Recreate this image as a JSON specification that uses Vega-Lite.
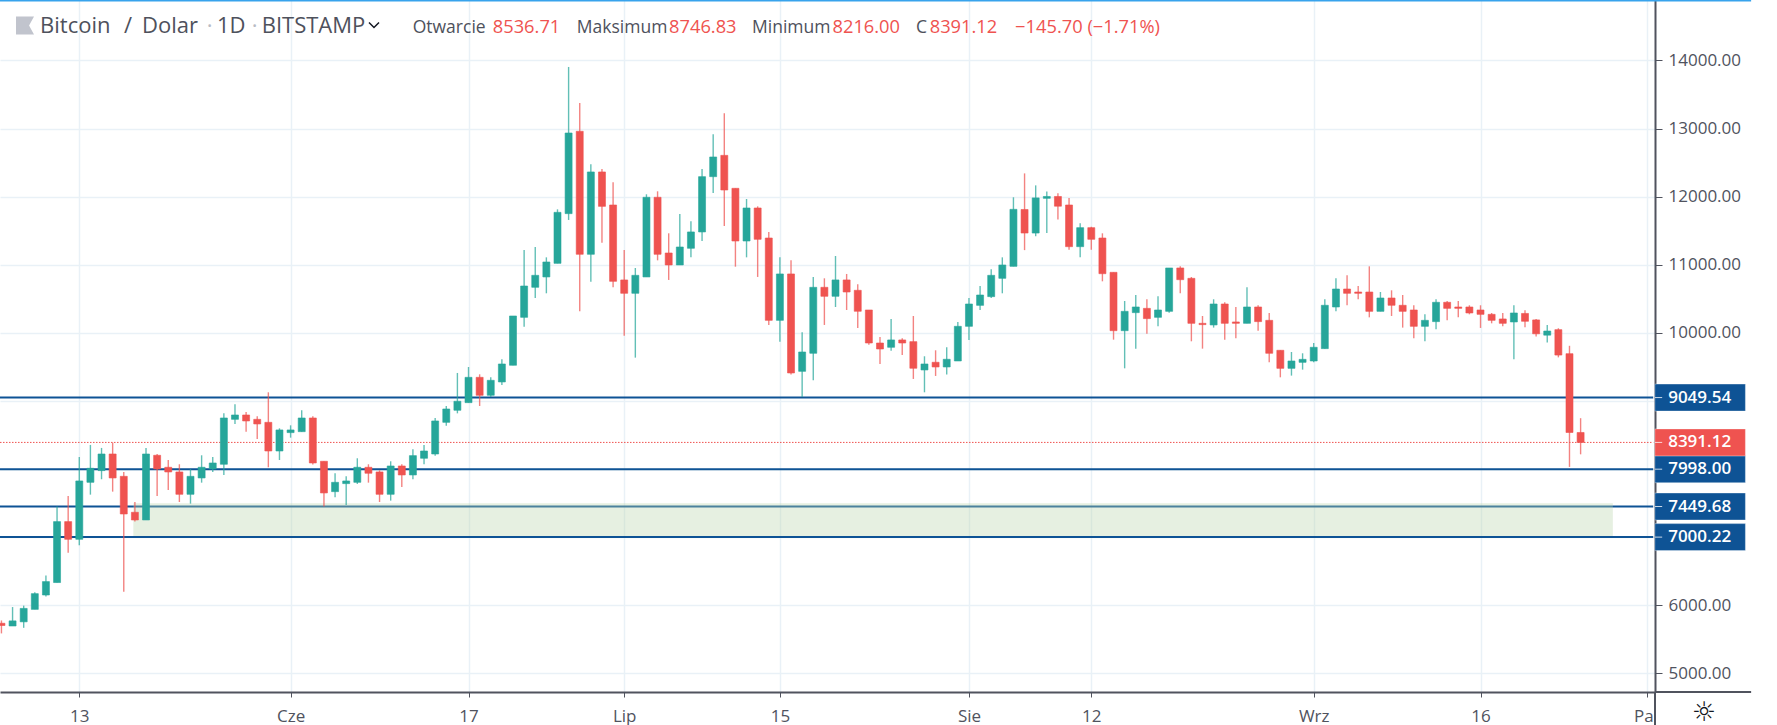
{
  "$schema": "https://vega.github.io/schema/vega-lite/v6.json",
  "width": 1655,
  "height": 692,
  "autosize": {"type": "none"},
  "padding": {"left": 0, "top": 0, "right": 122, "bottom": 33},
  "background": "#ffffff",
  "view": {"stroke": null},
  "config": {"font": "Open Sans"},
  "datasets": {
    "candles": [
      {"date":"2019-05-06","open":5735,"high":5776,"low":5586,"close":5702},
      {"date":"2019-05-07","open":5695,"high":5973,"low":5695,"close":5770},
      {"date":"2019-05-08","open":5756,"high":5994,"low":5668,"close":5953},
      {"date":"2019-05-09","open":5939,"high":6190,"low":5939,"close":6170},
      {"date":"2019-05-10","open":6150,"high":6435,"low":6129,"close":6347},
      {"date":"2019-05-11","open":6333,"high":7448,"low":6333,"close":7228},
      {"date":"2019-05-12","open":7228,"high":7604,"low":6772,"close":6968},
      {"date":"2019-05-13","open":6968,"high":8177,"low":6880,"close":7825},
      {"date":"2019-05-14","open":7805,"high":8354,"low":7624,"close":8011},
      {"date":"2019-05-15","open":7977,"high":8310,"low":7850,"close":8221},
      {"date":"2019-05-16","open":8221,"high":8388,"low":7668,"close":7869},
      {"date":"2019-05-17","open":7893,"high":7957,"low":6197,"close":7340},
      {"date":"2019-05-18","open":7365,"high":7516,"low":7228,"close":7252},
      {"date":"2019-05-19","open":7252,"high":8310,"low":7252,"close":8221},
      {"date":"2019-05-20","open":8202,"high":8221,"low":7604,"close":8001},
      {"date":"2019-05-21","open":8026,"high":8133,"low":7693,"close":7957},
      {"date":"2019-05-22","open":7957,"high":8070,"low":7516,"close":7629},
      {"date":"2019-05-23","open":7629,"high":8001,"low":7492,"close":7893},
      {"date":"2019-05-24","open":7869,"high":8202,"low":7800,"close":8026},
      {"date":"2019-05-25","open":8001,"high":8177,"low":7957,"close":8089},
      {"date":"2019-05-26","open":8070,"high":8818,"low":7913,"close":8750},
      {"date":"2019-05-27","open":8730,"high":8951,"low":8662,"close":8794},
      {"date":"2019-05-28","open":8794,"high":8838,"low":8549,"close":8706},
      {"date":"2019-05-29","open":8730,"high":8775,"low":8442,"close":8662},
      {"date":"2019-05-30","open":8686,"high":9127,"low":8026,"close":8265},
      {"date":"2019-05-31","open":8265,"high":8598,"low":8133,"close":8574},
      {"date":"2019-06-01","open":8535,"high":8642,"low":8461,"close":8574},
      {"date":"2019-06-02","open":8549,"high":8863,"low":8549,"close":8750},
      {"date":"2019-06-03","open":8750,"high":8775,"low":8065,"close":8089},
      {"date":"2019-06-04","open":8114,"high":8114,"low":7448,"close":7649},
      {"date":"2019-06-05","open":7668,"high":7938,"low":7585,"close":7805},
      {"date":"2019-06-06","open":7786,"high":7893,"low":7472,"close":7825},
      {"date":"2019-06-07","open":7805,"high":8158,"low":7781,"close":8026},
      {"date":"2019-06-08","open":8026,"high":8070,"low":7800,"close":7938},
      {"date":"2019-06-09","open":7957,"high":7981,"low":7516,"close":7629},
      {"date":"2019-06-10","open":7629,"high":8114,"low":7536,"close":8045},
      {"date":"2019-06-11","open":8045,"high":8070,"low":7737,"close":7913},
      {"date":"2019-06-12","open":7913,"high":8290,"low":7850,"close":8197},
      {"date":"2019-06-13","open":8158,"high":8354,"low":8070,"close":8265},
      {"date":"2019-06-14","open":8221,"high":8750,"low":8197,"close":8706},
      {"date":"2019-06-15","open":8686,"high":8926,"low":8637,"close":8882},
      {"date":"2019-06-16","open":8863,"high":9411,"low":8818,"close":8995},
      {"date":"2019-06-17","open":8975,"high":9499,"low":8975,"close":9347},
      {"date":"2019-06-18","open":9347,"high":9391,"low":8926,"close":9083},
      {"date":"2019-06-19","open":9083,"high":9347,"low":9058,"close":9303},
      {"date":"2019-06-20","open":9279,"high":9612,"low":9235,"close":9543},
      {"date":"2019-06-21","open":9524,"high":10248,"low":9524,"close":10248},
      {"date":"2019-06-22","open":10228,"high":11217,"low":10091,"close":10688},
      {"date":"2019-06-23","open":10669,"high":11261,"low":10512,"close":10845},
      {"date":"2019-06-24","open":10821,"high":11109,"low":10581,"close":11041},
      {"date":"2019-06-25","open":11021,"high":11814,"low":11021,"close":11770},
      {"date":"2019-06-26","open":11751,"high":13905,"low":11658,"close":12935},
      {"date":"2019-06-27","open":12960,"high":13376,"low":10316,"close":11154},
      {"date":"2019-06-28","open":11154,"high":12475,"low":10752,"close":12363},
      {"date":"2019-06-29","open":12363,"high":12407,"low":11325,"close":11858},
      {"date":"2019-06-30","open":11878,"high":12211,"low":10669,"close":10757},
      {"date":"2019-07-01","open":10777,"high":11217,"low":9959,"close":10581},
      {"date":"2019-07-02","open":10581,"high":10953,"low":9636,"close":10845},
      {"date":"2019-07-03","open":10821,"high":12035,"low":10821,"close":11991},
      {"date":"2019-07-04","open":11991,"high":12079,"low":11065,"close":11154},
      {"date":"2019-07-05","open":11173,"high":11462,"low":10777,"close":10997},
      {"date":"2019-07-06","open":10997,"high":11746,"low":10997,"close":11261},
      {"date":"2019-07-07","open":11242,"high":11638,"low":11109,"close":11482},
      {"date":"2019-07-08","open":11482,"high":12407,"low":11349,"close":12294},
      {"date":"2019-07-09","open":12294,"high":12916,"low":12054,"close":12583},
      {"date":"2019-07-10","open":12607,"high":13224,"low":11570,"close":12098},
      {"date":"2019-07-11","open":12123,"high":12123,"low":10972,"close":11349},
      {"date":"2019-07-12","open":11349,"high":11966,"low":11109,"close":11834},
      {"date":"2019-07-13","open":11834,"high":11858,"low":10821,"close":11374},
      {"date":"2019-07-14","open":11393,"high":11482,"low":10116,"close":10184},
      {"date":"2019-07-15","open":10184,"high":11109,"low":9871,"close":10865},
      {"date":"2019-07-16","open":10865,"high":11065,"low":9387,"close":9411},
      {"date":"2019-07-17","open":9435,"high":10008,"low":9058,"close":9719},
      {"date":"2019-07-18","open":9700,"high":10821,"low":9303,"close":10669},
      {"date":"2019-07-19","open":10669,"high":10801,"low":10116,"close":10537},
      {"date":"2019-07-20","open":10537,"high":11129,"low":10380,"close":10777},
      {"date":"2019-07-21","open":10777,"high":10865,"low":10336,"close":10600},
      {"date":"2019-07-22","open":10625,"high":10713,"low":10072,"close":10317},
      {"date":"2019-07-23","open":10336,"high":10336,"low":9827,"close":9851},
      {"date":"2019-07-24","open":9851,"high":9940,"low":9543,"close":9763},
      {"date":"2019-07-25","open":9788,"high":10204,"low":9739,"close":9896},
      {"date":"2019-07-26","open":9896,"high":9920,"low":9675,"close":9851},
      {"date":"2019-07-27","open":9871,"high":10248,"low":9323,"close":9480},
      {"date":"2019-07-28","open":9455,"high":9656,"low":9127,"close":9543},
      {"date":"2019-07-29","open":9568,"high":9744,"low":9367,"close":9499},
      {"date":"2019-07-30","open":9499,"high":9788,"low":9387,"close":9612},
      {"date":"2019-07-31","open":9587,"high":10160,"low":9587,"close":10096},
      {"date":"2019-08-01","open":10096,"high":10512,"low":9896,"close":10424},
      {"date":"2019-08-02","open":10404,"high":10688,"low":10336,"close":10556},
      {"date":"2019-08-03","open":10532,"high":10933,"low":10512,"close":10845},
      {"date":"2019-08-04","open":10801,"high":11109,"low":10581,"close":10997},
      {"date":"2019-08-05","open":10977,"high":11991,"low":10977,"close":11814},
      {"date":"2019-08-06","open":11812,"high":12342,"low":11215,"close":11466},
      {"date":"2019-08-07","open":11466,"high":12166,"low":11419,"close":11982},
      {"date":"2019-08-08","open":11976,"high":12077,"low":11466,"close":12003},
      {"date":"2019-08-09","open":12003,"high":12050,"low":11663,"close":11860},
      {"date":"2019-08-10","open":11878,"high":11982,"low":11222,"close":11266},
      {"date":"2019-08-11","open":11266,"high":11609,"low":11109,"close":11545},
      {"date":"2019-08-12","open":11545,"high":11560,"low":11222,"close":11374},
      {"date":"2019-08-13","open":11393,"high":11462,"low":10757,"close":10869},
      {"date":"2019-08-14","open":10889,"high":10889,"low":9900,"close":10032},
      {"date":"2019-08-15","open":10032,"high":10468,"low":9479,"close":10316},
      {"date":"2019-08-16","open":10297,"high":10556,"low":9768,"close":10380},
      {"date":"2019-08-17","open":10360,"high":10493,"low":9988,"close":10209},
      {"date":"2019-08-18","open":10228,"high":10537,"low":10096,"close":10336},
      {"date":"2019-08-19","open":10316,"high":10953,"low":10297,"close":10953},
      {"date":"2019-08-20","open":10953,"high":10977,"low":10581,"close":10781},
      {"date":"2019-08-21","open":10801,"high":10820,"low":9876,"close":10140},
      {"date":"2019-08-22","open":10140,"high":10248,"low":9768,"close":10121},
      {"date":"2019-08-23","open":10116,"high":10493,"low":10077,"close":10424},
      {"date":"2019-08-24","open":10424,"high":10449,"low":9900,"close":10140},
      {"date":"2019-08-25","open":10160,"high":10380,"low":9920,"close":10140},
      {"date":"2019-08-26","open":10140,"high":10669,"low":10140,"close":10380},
      {"date":"2019-08-27","open":10380,"high":10405,"low":10032,"close":10165},
      {"date":"2019-08-28","open":10184,"high":10292,"low":9567,"close":9700},
      {"date":"2019-08-29","open":9744,"high":9744,"low":9347,"close":9479},
      {"date":"2019-08-30","open":9479,"high":9719,"low":9372,"close":9587},
      {"date":"2019-08-31","open":9567,"high":9700,"low":9460,"close":9611},
      {"date":"2019-09-01","open":9587,"high":9851,"low":9567,"close":9788},
      {"date":"2019-09-02","open":9768,"high":10493,"low":9768,"close":10405},
      {"date":"2019-09-03","open":10380,"high":10801,"low":10316,"close":10644},
      {"date":"2019-09-04","open":10644,"high":10845,"low":10405,"close":10581},
      {"date":"2019-09-05","open":10600,"high":10688,"low":10493,"close":10581},
      {"date":"2019-09-06","open":10600,"high":10977,"low":10228,"close":10316},
      {"date":"2019-09-07","open":10316,"high":10600,"low":10316,"close":10512},
      {"date":"2019-09-08","open":10512,"high":10625,"low":10248,"close":10405},
      {"date":"2019-09-09","open":10405,"high":10556,"low":10077,"close":10316},
      {"date":"2019-09-10","open":10336,"high":10405,"low":9920,"close":10096},
      {"date":"2019-09-11","open":10096,"high":10272,"low":9876,"close":10184},
      {"date":"2019-09-12","open":10165,"high":10493,"low":10052,"close":10449},
      {"date":"2019-09-13","open":10449,"high":10468,"low":10184,"close":10360},
      {"date":"2019-09-14","open":10380,"high":10468,"low":10228,"close":10360},
      {"date":"2019-09-15","open":10380,"high":10405,"low":10272,"close":10292},
      {"date":"2019-09-16","open":10336,"high":10405,"low":10072,"close":10272},
      {"date":"2019-09-17","open":10272,"high":10292,"low":10140,"close":10184},
      {"date":"2019-09-18","open":10204,"high":10292,"low":10096,"close":10140},
      {"date":"2019-09-19","open":10160,"high":10405,"low":9611,"close":10292},
      {"date":"2019-09-20","open":10285,"high":10332,"low":10081,"close":10170},
      {"date":"2019-09-21","open":10190,"high":10203,"low":9945,"close":9986},
      {"date":"2019-09-22","open":9966,"high":10115,"low":9857,"close":10027},
      {"date":"2019-09-23","open":10047,"high":10068,"low":9640,"close":9674},
      {"date":"2019-09-24","open":9694,"high":9810,"low":8031,"close":8536.71},
      {"date":"2019-09-25","open":8536.71,"high":8746.83,"low":8216,"close":8391.12}
    ],
    "levels": [
      {"level":9049.54,"label":"9049.54"},
      {"level":7998,"label":"7998.00"},
      {"level":7449.68,"label":"7449.68"},
      {"level":7000.22,"label":"7000.22"}
    ],
    "last": [{"level":8391.12,"label":"8391.12"}],
    "title": [
      {"at":"2019-05-09T11:17:00Z","text":"Bitcoin","tone":"main"},
      {"at":"2019-05-17T00:29:00Z","text":"/","tone":"main"},
      {"at":"2019-05-18T15:21:00Z","text":"Dolar","tone":"main"},
      {"at":"2019-05-24T11:00:00Z","text":"·","tone":"dot"},
      {"at":"2019-05-25T09:07:00Z","text":"1D","tone":"main"},
      {"at":"2019-05-28T12:00:00Z","text":"·","tone":"dot"},
      {"at":"2019-05-29T09:36:00Z","text":"BITSTAMP","tone":"main"}
    ],
    "ohlc": [
      {"at":"2019-06-11T23:33:00Z","text":"Otwarcie","tone":"main"},
      {"at":"2019-06-19T04:19:00Z","text":"8536.71","tone":"down"},
      {"at":"2019-06-26T17:46:00Z","text":"Maksimum","tone":"main"},
      {"at":"2019-07-05T00:43:00Z","text":"8746.83","tone":"down"},
      {"at":"2019-07-12T11:46:00Z","text":"Minimum","tone":"main"},
      {"at":"2019-07-19T17:31:00Z","text":"8216.00","tone":"down"},
      {"at":"2019-07-27T05:46:00Z","text":"C","tone":"main"},
      {"at":"2019-07-28T11:17:00Z","text":"8391.12","tone":"down"},
      {"at":"2019-08-05T03:36:00Z","text":"−145.70 (−1.71%)","tone":"down"}
    ]
  },
  "layer": [
    {
      "data": {"name": "levels"},
      "mark": {"type": "rule", "color": "#0e5395", "strokeWidth": 2},
      "encoding": {
        "x": {
          "datum": {"year":2019,"month":5,"date":5,"hours":20,"minutes":53,"utc":true},
          "type": "temporal",
          "title": null,
          "scale": {"type": "utc", "domain": [{"year":2019,"month":5,"date":5,"hours":20,"minutes":53,"utc":true}, {"year":2019,"month":10,"date":1,"hours":16,"minutes":33,"utc":true}], "nice": false, "padding": 0},
          "axis": {
            "orient": "bottom",
            "values": [
              {"year":2019,"month":5,"date":13,"utc":true},
              {"year":2019,"month":6,"date":1,"utc":true},
              {"year":2019,"month":6,"date":17,"utc":true},
              {"year":2019,"month":7,"date":1,"utc":true},
              {"year":2019,"month":7,"date":15,"utc":true},
              {"year":2019,"month":8,"date":1,"utc":true},
              {"year":2019,"month":8,"date":12,"utc":true},
              {"year":2019,"month":9,"date":1,"utc":true},
              {"year":2019,"month":9,"date":16,"utc":true},
              {"year":2019,"month":10,"date":1,"utc":true}
            ],
            "labelExpr": "{'05-13':'13','06-01':'Cze','06-17':'17','07-01':'Lip','07-15':'15','08-01':'Sie','08-12':'12','09-01':'Wrz','09-16':'16','10-01':'Paź'}[utcFormat(datum.value,'%m-%d')]",
            "grid": true,
            "gridColor": "#e9f1f7",
            "gridWidth": 1.5,
            "domainColor": "#50535e",
            "domainWidth": 2,
            "tickColor": "#50535e",
            "tickSize": 5,
            "tickWidth": 1,
            "labelColor": "#50535e",
            "labelFont": "Open Sans",
            "labelFontSize": 17,
            "labelPadding": 11,
            "labelAngle": 0,
            "labelOverlap": false,
            "labelFlush": false,
            "labelBound": false
          }
        },
        "x2": {"datum": {"year":2019,"month":10,"date":1,"hours":12,"minutes":43,"utc":true}},
        "y": {
          "field": "level",
          "type": "quantitative",
          "title": null,
          "scale": {"domain": [4725.5, 14888.5], "nice": false, "zero": false, "padding": 0},
          "axis": {
            "orient": "right",
            "values": [5000, 6000, 7000, 8000, 9000, 10000, 11000, 12000, 13000, 14000],
            "labelExpr": "datum.value >= 7000 && datum.value <= 9000 ? '' : format(datum.value, '.2f')",
            "grid": true,
            "gridColor": "#e9f1f7",
            "gridWidth": 1.5,
            "domainColor": "#50535e",
            "domainWidth": 2,
            "tickColor": "#50535e",
            "tickSize": 7,
            "tickWidth": 1,
            "labelColor": "#50535e",
            "labelFont": "Open Sans",
            "labelFontSize": 17,
            "labelPadding": 6,
            "labelOverlap": false,
            "labelFlush": false,
            "labelBound": false
          }
        }
      }
    },
    {
      "data": {"name": "last"},
      "mark": {"type": "rule", "color": "#ef5350", "strokeWidth": 1, "strokeDash": [1.5, 1.5]},
      "encoding": {
        "x": {"datum": {"year":2019,"month":5,"date":5,"hours":20,"minutes":53,"utc":true}, "type": "temporal", "title": null},
        "x2": {"datum": {"year":2019,"month":10,"date":1,"hours":12,"minutes":43,"utc":true}},
        "y": {"field": "level", "type": "quantitative", "title": null}
      }
    },
    {
      "data": {"values": [{"from": "2019-05-17T20:40:00Z", "to": "2019-09-27T21:36:00Z", "top": 7497, "bottom": 7017}]},
      "mark": {"type": "rect", "color": "#b9d6ac", "opacity": 0.36},
      "encoding": {
        "x": {"field": "from", "type": "temporal", "title": null},
        "x2": {"field": "to"},
        "y": {"field": "top", "type": "quantitative", "title": null},
        "y2": {"field": "bottom"}
      }
    },
    {
      "data": {"name": "candles"},
      "mark": {"type": "rule", "strokeWidth": 1.4, "opacity": 0.72},
      "encoding": {
        "x": {"field": "date", "type": "temporal", "title": null},
        "y": {"field": "low", "type": "quantitative", "title": null},
        "y2": {"field": "high"},
        "color": {"condition": {"test": "datum.close >= datum.open", "value": "#26a69a"}, "value": "#ef5350"}
      }
    },
    {
      "data": {"name": "candles"},
      "mark": {"type": "bar", "size": 7, "strokeWidth": 0.6},
      "encoding": {
        "x": {"field": "date", "type": "temporal", "title": null},
        "y": {"field": "open", "type": "quantitative", "title": null},
        "y2": {"field": "close"},
        "color": {"condition": {"test": "datum.close >= datum.open", "value": "#26a69a"}, "value": "#ef5350"},
        "stroke": {"condition": {"test": "datum.close >= datum.open", "value": "#26a69a"}, "value": "#ef5350"}
      }
    },
    {
      "data": {"values": [{"level": 14881}]},
      "mark": {"type": "rule", "color": "#38a3ec", "strokeWidth": 2},
      "encoding": {
        "x": {"datum": {"year":2019,"month":5,"date":5,"hours":20,"minutes":53,"utc":true}, "type": "temporal", "title": null},
        "x2": {"datum": {"year":2019,"month":10,"date":10,"hours":8,"utc":true}},
        "y": {"field": "level", "type": "quantitative", "title": null}
      }
    },
    {
      "data": {"values": [{"level": 4725.5}]},
      "mark": {"type": "rule", "color": "#50535e", "strokeWidth": 2},
      "encoding": {
        "x": {"datum": {"year":2019,"month":10,"date":1,"hours":16,"minutes":33,"utc":true}, "type": "temporal", "title": null},
        "x2": {"datum": {"year":2019,"month":10,"date":10,"hours":8,"utc":true}},
        "y": {"field": "level", "type": "quantitative", "title": null}
      }
    },
    {
      "data": {"values": [{"top": 4705, "bottom": 4241}]},
      "mark": {"type": "rect", "color": "#ffffff"},
      "encoding": {
        "x": {"datum": {"year":2019,"month":10,"date":1,"hours":16,"minutes":33,"utc":true}, "type": "temporal", "title": null},
        "x2": {"datum": {"year":2019,"month":10,"date":3,"utc":true}},
        "y": {"field": "top", "type": "quantitative", "title": null},
        "y2": {"field": "bottom"}
      }
    },
    {
      "data": {"values": [{"top": 4725.5, "bottom": 4241}]},
      "mark": {"type": "rule", "color": "#50535e", "strokeWidth": 2},
      "encoding": {
        "x": {"datum": {"year":2019,"month":10,"date":1,"hours":16,"minutes":33,"utc":true}, "type": "temporal", "title": null},
        "y": {"field": "top", "type": "quantitative", "title": null},
        "y2": {"field": "bottom"}
      }
    },
    {
      "data": {"name": "levels"},
      "mark": {"type": "bar", "size": 27, "orient": "horizontal", "stroke": "#ffffff", "strokeOpacity": 0.35, "strokeWidth": 1, "color": "#0e5395"},
      "encoding": {
        "x": {"datum": {"year":2019,"month":10,"date":1,"hours":16,"minutes":10,"utc":true}, "type": "temporal", "title": null},
        "x2": {"datum": {"year":2019,"month":10,"date":9,"hours":19,"minutes":40,"utc":true}},
        "y": {"field": "level", "type": "quantitative", "title": null}
      }
    },
    {
      "data": {"name": "last"},
      "mark": {"type": "bar", "size": 27, "orient": "horizontal", "stroke": "#ffffff", "strokeOpacity": 0.35, "strokeWidth": 1, "color": "#ef5350"},
      "encoding": {
        "x": {"datum": {"year":2019,"month":10,"date":1,"hours":16,"minutes":10,"utc":true}, "type": "temporal", "title": null},
        "x2": {"datum": {"year":2019,"month":10,"date":9,"hours":19,"minutes":40,"utc":true}},
        "y": {"field": "level", "type": "quantitative", "title": null}
      }
    },
    {
      "data": {"name": "levels"},
      "mark": {"type": "rule", "color": "#c9d8e8", "strokeWidth": 1},
      "encoding": {
        "x": {"datum": {"year":2019,"month":10,"date":1,"hours":16,"minutes":33,"utc":true}, "type": "temporal", "title": null},
        "x2": {"datum": {"year":2019,"month":10,"date":2,"hours":8,"utc":true}},
        "y": {"field": "level", "type": "quantitative", "title": null}
      }
    },
    {
      "data": {"name": "last"},
      "mark": {"type": "rule", "color": "#fbd5d6", "strokeWidth": 1},
      "encoding": {
        "x": {"datum": {"year":2019,"month":10,"date":1,"hours":16,"minutes":33,"utc":true}, "type": "temporal", "title": null},
        "x2": {"datum": {"year":2019,"month":10,"date":2,"hours":8,"utc":true}},
        "y": {"field": "level", "type": "quantitative", "title": null}
      }
    },
    {
      "data": {"name": "levels"},
      "mark": {"type": "text", "align": "left", "baseline": "middle", "color": "#ffffff", "font": "Open Sans", "fontSize": 17, "fontWeight": 600},
      "encoding": {
        "x": {"datum": {"year":2019,"month":10,"date":2,"hours":21,"utc":true}, "type": "temporal", "title": null},
        "y": {"field": "level", "type": "quantitative", "title": null},
        "text": {"field": "label"}
      }
    },
    {
      "data": {"name": "last"},
      "mark": {"type": "text", "align": "left", "baseline": "middle", "color": "#ffffff", "font": "Open Sans", "fontSize": 17, "fontWeight": 600},
      "encoding": {
        "x": {"datum": {"year":2019,"month":10,"date":2,"hours":21,"utc":true}, "type": "temporal", "title": null},
        "y": {"field": "level", "type": "quantitative", "title": null},
        "text": {"field": "label"}
      }
    },
    {
      "data": {"name": "title"},
      "mark": {"type": "text", "align": "left", "baseline": "middle", "font": "Open Sans", "fontSize": 22},
      "encoding": {
        "x": {"field": "at", "type": "temporal", "title": null},
        "y": {"datum": 14507, "type": "quantitative", "title": null},
        "text": {"field": "text"},
        "color": {"field": "tone", "type": "nominal", "legend": null, "scale": {"domain": ["main", "dot", "down"], "range": ["#4e515c", "#b8bbc4", "#ef5350"]}}
      }
    },
    {
      "data": {"name": "ohlc"},
      "mark": {"type": "text", "align": "left", "baseline": "middle", "font": "Open Sans"},
      "encoding": {
        "x": {"field": "at", "type": "temporal", "title": null},
        "y": {"datum": 14477, "type": "quantitative", "title": null},
        "text": {"field": "text"},
        "size": {"condition": {"test": "datum.tone === 'down'", "value": 18.3}, "value": 17.5},
        "color": {"field": "tone", "type": "nominal", "legend": null}
      }
    },
    {
      "data": {"values": [{"at": "2019-05-08T02:53:00Z", "price": 14514}]},
      "mark": {"type": "point", "shape": "M-1 -1L1 -1L0.45 0L1 1L-1 1Z", "size": 324, "filled": true, "color": "#c1c4cd", "opacity": 1},
      "encoding": {
        "x": {"field": "at", "type": "temporal", "title": null},
        "y": {"field": "price", "type": "quantitative", "title": null}
      }
    },
    {
      "data": {"values": [{"at": "2019-06-08T12:00:00Z", "price": 14521}]},
      "mark": {"type": "point", "shape": "M-1 -0.5L0 0.5L1 -0.5", "size": 100, "filled": false, "color": "#131722", "strokeWidth": 1.5, "opacity": 1},
      "encoding": {
        "x": {"field": "at", "type": "temporal", "title": null},
        "y": {"field": "price", "type": "quantitative", "title": null}
      }
    },
    {
      "data": {"values": [{"at": "2019-10-06T02:00:00Z", "price": 4413, "icon": "☼"}]},
      "mark": {"type": "text", "align": "center", "baseline": "middle", "font": "DejaVu Sans", "fontSize": 27, "color": "#131722"},
      "encoding": {
        "x": {"field": "at", "type": "temporal", "title": null},
        "y": {"field": "price", "type": "quantitative", "title": null},
        "text": {"field": "icon"}
      }
    }
  ]
}
